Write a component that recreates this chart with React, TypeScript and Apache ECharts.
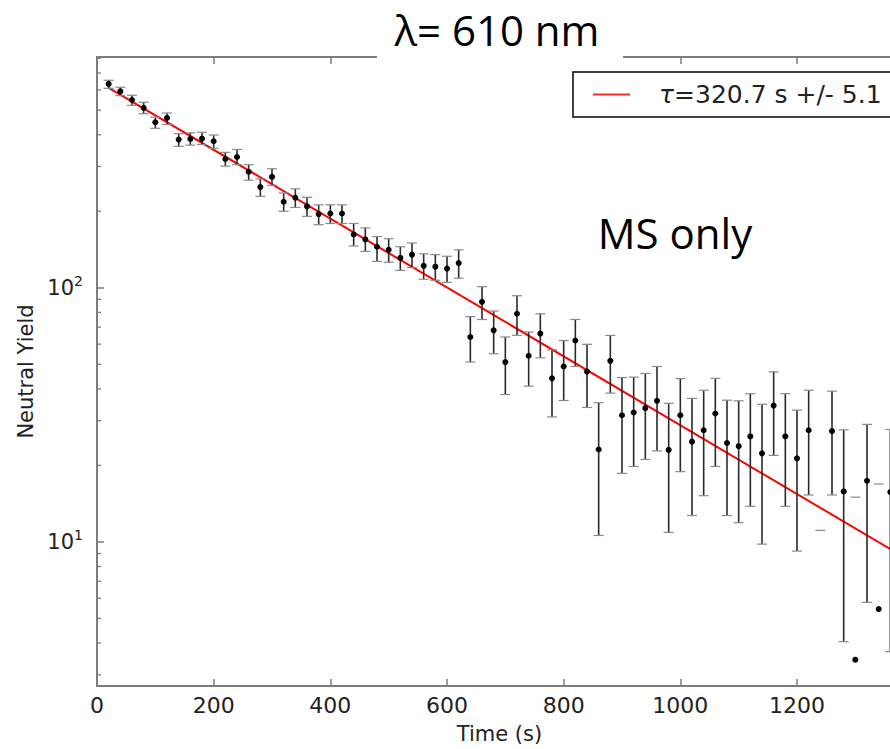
import React, { useEffect, useRef } from "react";
import * as echarts from "echarts";

// ---- data ----
const times = [
  20, 40, 60, 80, 100, 120, 140, 160, 180, 200, 220, 240, 260, 280, 300, 320, 340, 360, 380, 400,
  420, 440, 460, 480, 500, 520, 540, 560, 580, 600, 620, 640, 660, 680, 700, 720, 740, 760, 780, 800,
  820, 840, 860, 880, 900, 920, 940, 960, 980, 1000, 1020, 1040, 1060, 1080, 1100, 1120, 1140, 1160,
  1180, 1200, 1220, 1240, 1260, 1280, 1300, 1320, 1340, 1360,
];
const yields: (number | null)[] = [
  634, 593, 548, 510, 448, 466, 383, 385, 386, 377, 321, 327, 286, 249, 273, 218, 226, 209, 195, 196,
  196, 162, 155, 145, 141, 131, 135, 122, 121, 119, 125, 64, 88, 68, 51, 79, 54, 66, 44, 49,
  62, 46.8, 23.1, 51.6, 31.5, 32.3, 33.6, 35.9, 23.0, 31.5, 24.8, 27.5, 32.0, 24.5, 23.8, 26.0, 22.3, 34.4,
  26.0, 21.3, 27.5, null, 27.3, 15.8, 3.44, 17.4, 5.44, 15.7,
];
const errLow: (number | null)[] = [
  609, 570, 522, 484, 424, 439, 360, 364, 366, 354, 301, 305, 265, 229, 253, 200, 207, 191, 177, 179,
  179, 146, 139, 127, 126, 117, 120, 108, 107, 105, 109, 51, 75, 55, 38, 65, 41, 53, 31, 36,
  49, 33.8, 10.6, 38.5, 18.6, 19.8, 21.1, 22.8, 10.9, 18.9, 12.7, 15.2, 19.8, 12.7, 11.9, 13.8, 9.8, 21.9,
  13.8, 9.2, 15.3, null, 15.3, 4.05, null, 5.78, null, 3.7,
];
const errHigh: (number | null)[] = [
  655, 615, 572, 537, 469, 487, 404, 407, 409, 399, 341, 350, 305, 268, 294, 236, 245, 227, 212, 212,
  212, 179, 172, 159, 156, 145, 150, 136, 135, 133, 141, 77, 101, 81, 64, 93, 67, 79, 57, 62,
  75, 59.9, 35.3, 64.9, 44.3, 44.5, 46.0, 49.0, 35.1, 43.9, 36.7, 39.5, 44.0, 36.1, 35.9, 38.3, 34.8, 46.7,
  38.3, 33.0, 39.5, 11.1, 39.2, 27.6, 15.0, 29.0, 16.9, 27.7,
];
const fitTimes = [20, 1380];
const fitValues = [612, 8.8];
const fitLabel = "τ=320.7 s +/- 5.1";
const minorTickValues = [3, 4, 5, 6, 7, 8, 9, 20, 30, 40, 50, 60, 70, 80, 90, 200, 300, 400, 500, 600, 700, 800];

const AXIS_GRAY = "#7d7d7d";
const TEXT = "#222";
const SANS = "DejaVu Sans";

export default function App() {
  const ref = useRef<HTMLDivElement>(null);

  useEffect(() => {
    if (!ref.current) return;
    const chart = echarts.init(ref.current, null, { renderer: "svg" });

    const xCommon = {
      type: "value" as const,
      min: 0,
      max: 1380,
      interval: 200,
      splitLine: { show: false },
      axisLine: { show: true, lineStyle: { color: AXIS_GRAY, width: 2 } },
      axisTick: { show: true, inside: true, length: 7, lineStyle: { color: AXIS_GRAY, width: 1.5 } },
    };

    const option: any = {
      animation: false,
      backgroundColor: "#fff",
      grid: { left: 97, top: 57, bottom: 62, right: 0, containLabel: false },
      legend: {
        data: [fitLabel],
        left: 573,
        top: 72,
        orient: "horizontal",
        padding: [10, 20, 10, 19],
        borderColor: "#000",
        borderWidth: 1.5,
        borderRadius: 0,
        backgroundColor: "#fff",
        itemWidth: 37,
        itemHeight: 14,
        itemStyle: { opacity: 0, color: "transparent", borderWidth: 0 },
        lineStyle: { color: "#ff2a2a", width: 2 },
        formatter: (name: string) => `{t|${name.slice(0, 1)}}${name.slice(1)}`,
        textStyle: {
          fontSize: 25,
          fontFamily: SANS,
          color: TEXT,
          padding: [0, 0, 0, 24],
          rich: {
            t: { fontSize: 25, fontFamily: SANS, fontStyle: "italic", color: TEXT },
          },
        },
      },
      xAxis: [
        {
          ...xCommon,
          position: "bottom",
          name: "Time (s)",
          nameLocation: "middle",
          nameGap: 37,
          nameTextStyle: { fontSize: 21, fontFamily: SANS, color: TEXT },
          axisLabel: {
            fontSize: 22,
            fontFamily: SANS,
            color: TEXT,
            margin: 8,
            formatter: (v: number) => (v % 200 === 0 ? String(v) : ""),
          },
        },
        {
          ...xCommon,
          position: "top",
          axisLabel: { show: false },
        },
      ],
      yAxis: [
        {
          type: "log",
          logBase: 10,
          min: 2.71,
          max: 809,
          position: "left",
          splitLine: { show: false },
          minorTick: { show: false },
          axisLine: { show: true, lineStyle: { color: AXIS_GRAY, width: 2 } },
          axisTick: { show: true, inside: true, length: 7, lineStyle: { color: AXIS_GRAY, width: 1.5 } },
          name: "Neutral Yield",
          nameLocation: "middle",
          nameGap: 61,
          nameRotate: 90,
          nameTextStyle: { fontSize: 21, fontFamily: SANS, color: TEXT },
          axisLabel: {
            margin: 14,
            formatter: (v: number) => {
              const e = Math.log10(v);
              if (Math.abs(e - Math.round(e)) > 1e-6) return "";
              return `{b|10}{s|${Math.round(e)}}`;
            },
            rich: {
              b: { fontSize: 21, fontFamily: SANS, color: TEXT, lineHeight: 28, verticalAlign: "middle" },
              s: { fontSize: 14, fontFamily: SANS, color: TEXT, lineHeight: 14, verticalAlign: "top" },
            },
          },
        },
      ],
      series: [
        {
          name: fitLabel,
          type: "line",
          xAxisIndex: 0,
          yAxisIndex: 0,
          data: fitTimes.map((t, i) => [t, fitValues[i]]),
          symbol: "none",
          showSymbol: false,
          lineStyle: { color: "#ff0000", width: 2 },
          itemStyle: { color: "#ff0000" },
          z: 2,
        },
        {
          name: "data",
          type: "custom",
          xAxisIndex: 0,
          yAxisIndex: 0,
          z: 3,
          data: times.map((t, i) => [t, (yields[i] ?? errHigh[i]) as number]),
          renderItem: (params: any, api: any) => {
            const i = params.dataIndex;
            const t = times[i];
            const v = yields[i];
            const lo = errLow[i];
            const hi = errHigh[i];
            const children: any[] = [];
            const capHalf = 5;
            if (lo != null && hi != null) {
              const a = api.coord([t, lo]);
              const b = api.coord([t, hi]);
              children.push({
                type: "line",
                shape: { x1: a[0], y1: a[1], x2: b[0], y2: b[1] },
                style: { stroke: "#2a2a2a", lineWidth: 1.6 },
              });
            }
            [lo, hi].forEach((c) => {
              if (c == null) return;
              const p = api.coord([t, c]);
              children.push({
                type: "line",
                shape: { x1: p[0] - capHalf, y1: p[1], x2: p[0] + capHalf, y2: p[1] },
                style: { stroke: "#8a8a8a", lineWidth: 1.2 },
              });
            });
            if (v != null) {
              const p = api.coord([t, v]);
              children.push({
                type: "circle",
                shape: { cx: p[0], cy: p[1], r: 3 },
                style: { fill: "#000" },
              });
            }
            return { type: "group", children };
          },
        },
        {
          name: "minorTicks",
          type: "custom",
          xAxisIndex: 0,
          yAxisIndex: 0,
          z: 4,
          silent: true,
          data: minorTickValues.map((v) => [0, v]),
          renderItem: (params: any, api: any) => {
            const p = api.coord([0, minorTickValues[params.dataIndex]]);
            return {
              type: "line",
              shape: { x1: p[0], y1: p[1], x2: p[0] + 4, y2: p[1] },
              style: { stroke: AXIS_GRAY, lineWidth: 1.3 },
            };
          },
        },
      ],
      graphic: [
        {
          type: "rect",
          left: 377,
          top: 0,
          shape: { width: 246, height: 64 },
          style: { fill: "#fff" },
          z: 100,
        },
        {
          type: "text",
          x: 497,
          y: 29,
          z: 101,
          style: {
            text: "λ= 610 nm",
            fontSize: 42,
            fontFamily: "Open Sans",
            fill: "#000",
            align: "center",
            verticalAlign: "middle",
          },
        },
        {
          type: "text",
          x: 675,
          y: 232,
          z: 101,
          style: {
            text: "MS only",
            fontSize: 42,
            fontFamily: "Open Sans",
            fill: "#000",
            align: "center",
            verticalAlign: "middle",
          },
        },
      ],
    };

    chart.setOption(option);
    return () => chart.dispose();
  }, []);

  return (
    <div
      style={{
        position: "fixed",
        left: 0,
        top: 0,
        width: 890,
        height: 749,
        overflow: "hidden",
        background: "#fff",
      }}
    >
      <div ref={ref} style={{ width: 905, height: 749 }} />
    </div>
  );
}
